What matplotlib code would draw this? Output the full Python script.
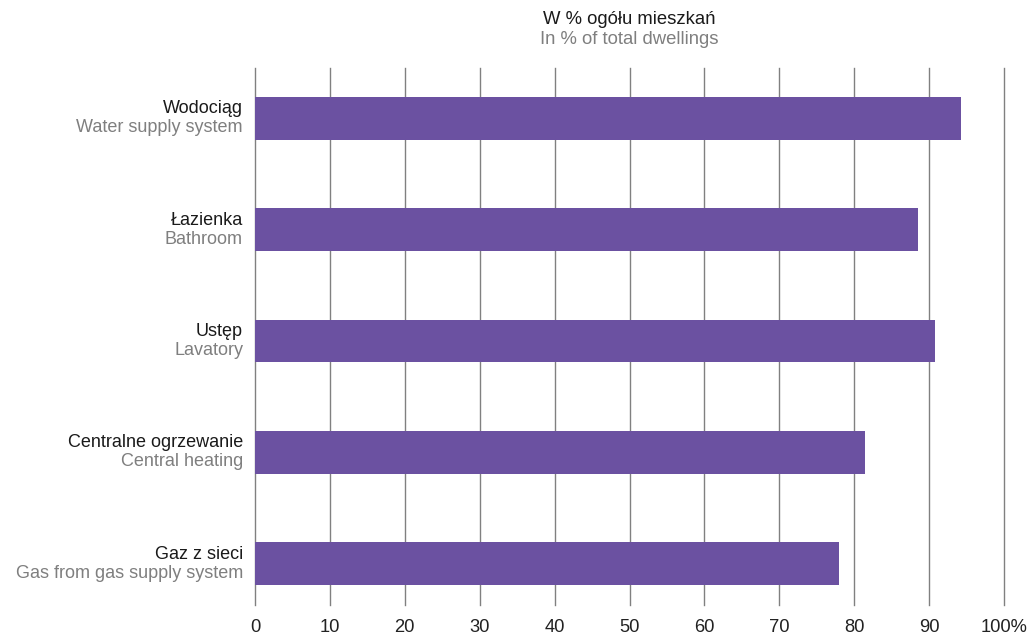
import matplotlib.pyplot as plt

plt.rcParams['font.family'] = ['Liberation Sans', 'DejaVu Sans']

labels_pl = ["Wodociąg", "Łazienka", "Ustęp", "Centralne ogrzewanie", "Gaz z sieci"]
labels_en = ["Water supply system", "Bathroom", "Lavatory", "Central heating",
             "Gas from gas supply system"]
values = [94.3, 88.5, 90.8, 81.5, 78.0]
ticks = [0, 10, 20, 30, 40, 50, 60, 70, 80, 90, 100]
tick_labels = ["0", "10", "20", "30", "40", "50", "60", "70", "80", "90", "100%"]

BAR_COLOR = "#6B51A1"
GRID_COLOR = "#808080"
GRAY_TEXT = "#7f7f7f"

fig = plt.figure(figsize=(10.29, 6.35), dpi=100)
ax = fig.add_axes([255 / 1029, 1 - 605 / 635, (1004 - 255) / 1029, (605 - 68) / 635])

ypos = list(range(len(values)))
ax.barh(ypos, values, height=0.385, color=BAR_COLOR, zorder=3)

ax.set_xlim(0, 100)
ax.set_ylim(len(values) - 1 + 0.37, -0.45)

ax.set_xticks(ticks)
ax.set_xticklabels(tick_labels, fontsize=13.2, color="#222222")
ax.tick_params(axis="x", length=0, pad=10)
ax.set_yticks([])
ax.grid(axis="x", color=GRID_COLOR, linewidth=1, zorder=0)
for gl in ax.get_xgridlines():
    gl.set_clip_on(False)
for s in ax.spines.values():
    s.set_visible(False)

for y, pl, en in zip(ypos, labels_pl, labels_en):
    ax.annotate(pl, xy=(0, y), xytext=(-12, 1), textcoords="offset pixels",
                ha="right", va="bottom", fontsize=13, color="#1a1a1a")
    ax.annotate(en, xy=(0, y), xytext=(-12, -1), textcoords="offset pixels",
                ha="right", va="top", fontsize=13, color=GRAY_TEXT)

xc = (255 + 1004) / 2 / 1029
fig.text(xc, 1 - 20 / 635, "W % ogółu mieszkań", ha="center", va="center",
         fontsize=13.3, color="#1a1a1a")
fig.text(xc, 1 - 39 / 635, "In % of total dwellings", ha="center", va="center",
         fontsize=13.3, color=GRAY_TEXT)

fig.savefig("out.png", dpi=100)
